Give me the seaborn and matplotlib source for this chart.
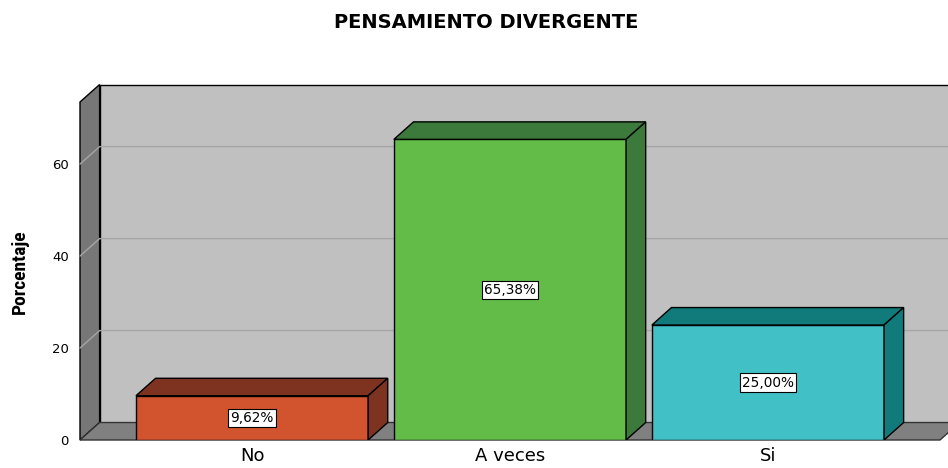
import numpy as np
import pandas as pd
import matplotlib.pyplot as plt
import seaborn as sns
from matplotlib.patches import Polygon

categorias = ['No', 'A veces', 'Si']
porcentajes = [9.62, 65.38, 25.00]
etiquetas = ['9,62%', '65,38%', '25,00%']
colores_frente = ['#d2542f', '#64bc48', '#41c0c6']
colores_oscuros = ['#7e3321', '#3b7a3b', '#117b7b']
ticks_y = [0, 20, 40, 60]

sns.set_style('white')
plt.rcParams['font.family'] = ['DejaVu Sans']
plt.rcParams['text.color'] = 'black'
plt.rcParams['xtick.color'] = 'black'
plt.rcParams['ytick.color'] = 'black'

df = pd.DataFrame({'categoria': categorias, 'porcentaje': porcentajes})

fig = plt.figure(figsize=(9.48, 4.68), dpi=100)
ax = fig.add_axes([80 / 948, 28 / 468, 860 / 948, 338 / 468])

sns.barplot(data=df, x='categoria', y='porcentaje', hue='categoria',
    palette=colores_frente,
    saturation=1,
    width=0.9,
    edgecolor='black',
    linewidth=1,
    legend=False,
    ax=ax,
    zorder=3,
    )
barras = list(ax.patches)

### limits of the "box" and depth of the fake 3d
x0, x1 = -0.667, 2.667
y0, y1 = 0, 73.5
dx, dy = 0.076, 3.8
ax.set_xlim(x0, x1)
ax.set_ylim(y0, y1)

# back wall
ax.add_patch(Polygon([(x0 + dx, dy), (x1 + dx, dy), (x1 + dx, y1 + dy), (x0 + dx, y1 + dy)],
                     fc='#c0c0c0', ec='black', lw=1, zorder=0, clip_on=False))
# left wall
ax.add_patch(Polygon([(x0, 0), (x0 + dx, dy), (x0 + dx, y1 + dy), (x0, y1)],
                     fc='#777777', ec='black', lw=1, zorder=1, clip_on=False))
# floor
ax.add_patch(Polygon([(x0, 0), (x1, 0), (x1 + dx, dy), (x0 + dx, dy)],
                     fc='#808080', ec='#333333', lw=1, zorder=1, clip_on=False))

# grid lines on the walls
for t in ticks_y[1:]:
    ax.plot([x0, x0 + dx, x1 + dx], [t, t + dy, t + dy], color='#a6a6a6', lw=1,
            zorder=1.5, clip_on=False)

### top and side faces of the bars
for p, oscuro, txt in zip(barras, colores_oscuros, etiquetas):
    bx, w, h = p.get_x(), p.get_width(), p.get_height()
    ax.add_patch(Polygon([(bx, h), (bx + dx, h + dy), (bx + w + dx, h + dy), (bx + w, h)],
                         fc=oscuro, ec='black', lw=1, zorder=3))
    ax.add_patch(Polygon([(bx + w, 0), (bx + w + dx, dy), (bx + w + dx, h + dy), (bx + w, h)],
                         fc=oscuro, ec='black', lw=1, zorder=3))
    ax.text(bx + w / 2, h / 2, txt, ha='center', va='center', fontsize=9.8, zorder=5,
            bbox=dict(boxstyle='square,pad=0.15', fc='white', ec='black', lw=0.8))

ax.set_yticks(ticks_y)
ax.tick_params(axis='y', length=0, pad=8, labelsize=9.5)
ax.tick_params(axis='x', length=0, pad=5, labelsize=13)
ax.set_xlabel('')
ax.set_ylabel('')
for s in ax.spines.values():
    s.set_visible(False)

fig.text(486 / 948, 1 - 22 / 468, 'PENSAMIENTO DIVERGENTE', ha='center', va='center',
         fontsize=14, fontweight='bold')
fig.text(20 / 948, 1 - 272 / 468, 'Porcentaje', rotation=90, ha='center', va='center',
         fontsize=14, fontweight='bold',
         family=['DejaVu Sans Condensed', 'Liberation Sans Narrow', 'Roboto Condensed', 'DejaVu Sans'])

fig.savefig('out.png', dpi=100)
